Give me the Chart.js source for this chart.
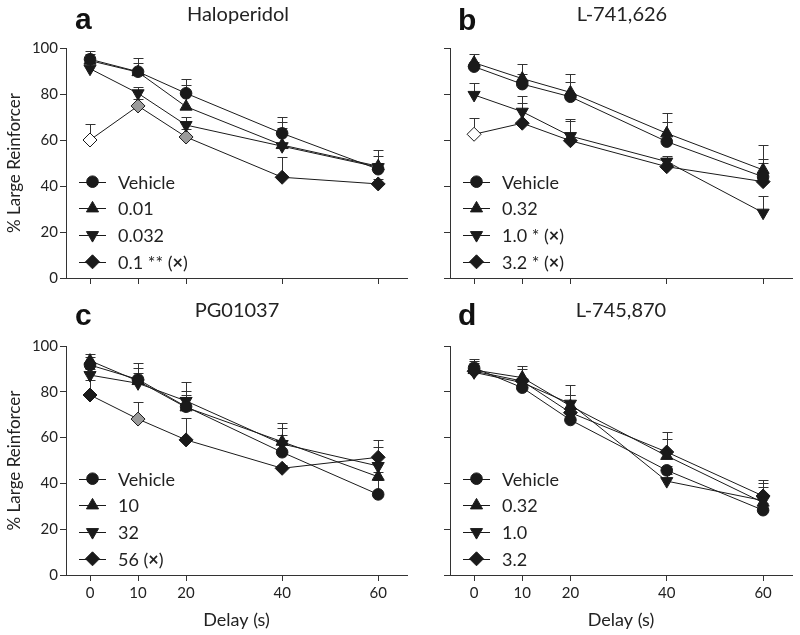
<!DOCTYPE html>
<html><head><meta charset="utf-8">
<script src="https://cdn.jsdelivr.net/npm/chart.js@4.4.1/dist/chart.umd.min.js"></script>
<style>
html,body{margin:0;padding:0;background:#fff;}
#wrap{position:relative;width:800px;height:635px;overflow:hidden;background:#fff;}
canvas{position:absolute;}
</style></head><body><div id="wrap">
<canvas id="pa" width="415" height="300" style="left:0;top:0;width:415px;height:300px"></canvas>
<canvas id="pb" width="400" height="300" style="left:400px;top:0;width:400px;height:300px"></canvas>
<canvas id="pc" width="415" height="335" style="left:0;top:300px;width:415px;height:335px"></canvas>
<canvas id="pd" width="400" height="335" style="left:400px;top:300px;width:400px;height:335px"></canvas>
</div>
<script>
// ---- data ----
const delays = [0, 10, 20, 40, 60];
const xTickValues = [0, 10, 20, 40, 60];
const yTickValues = [0, 20, 40, 60, 80, 100];

// (a) Haloperidol
const haloLabels = ['Vehicle', '0.01', '0.032', '0.1 ** (×)'];
const haloVehicle = [95.1, 89.7, 80.3, 62.9, 47.3];
const haloVehicleSem = [3.5, 5.8, 6.4, 7.0, 8.4];
const halo001 = [94.5, 89.5, 74.5, 57.8, 48.6];
const halo001Sem = [2.8, 3.8, 9.4, 10.2, 4.4];
const halo0032 = [91.0, 80.3, 66.5, 57.3, 48.2];
const halo0032Sem = [3.0, 2.9, 3.6, 7.8, 1.7];
const halo01 = [60.0, 74.8, 61.3, 43.8, 40.9];
const halo01Sem = [7.0, 3.0, 3.5, 8.7, 2.0];

// (b) L-741,626
const l741Labels = ['Vehicle', '0.32', '1.0 * (×)', '3.2 * (×)'];
const l741Vehicle = [91.9, 84.3, 78.8, 59.3, 44.0];
const l741VehicleSem = [2.1, 4.4, 6.3, 8.7, 7.6];
const l741_032 = [93.6, 86.7, 80.7, 62.9, 47.0];
const l741_032Sem = [3.6, 6.2, 7.9, 8.7, 10.8];
const l741_10 = [79.6, 72.3, 61.7, 50.6, 28.4];
const l741_10Sem = [5.4, 7.0, 7.4, 2.4, 7.4];
const l741_32 = [62.5, 67.3, 59.7, 48.4, 41.9];
const l741_32Sem = [6.9, 8.6, 8.7, 1.6, 8.2];

// (c) PG01037
const pgLabels = ['Vehicle', '10', '32', '56 (×)'];
const pgVehicle = [91.7, 85.4, 73.5, 53.6, 35.2];
const pgVehicleSem = [3.4, 4.8, 7.0, 7.5, 6.3];
const pg10 = [93.6, 84.7, 73.2, 58.2, 42.9];
const pg10Sem = [2.9, 7.7, 10.9, 8.3, 2.0];
const pg32 = [87.3, 83.7, 76.0, 57.2, 47.6];
const pg32Sem = [2.5, 4.4, 2.6, 6.9, 8.2];
const pg56 = [78.6, 68.1, 59.0, 46.6, 51.4];
const pg56Sem = [6.6, 7.3, 9.7, 1.5, 7.6];

// (d) L-745,870
const l745Labels = ['Vehicle', '0.32', '1.0', '3.2'];
const l745Vehicle = [90.5, 81.8, 67.7, 45.7, 28.3];
const l745VehicleSem = [2.9, 3.2, 3.3, 1.9, 3.0];
const l745_032 = [89.5, 86.2, 73.8, 52.0, 31.6];
const l745_032Sem = [4.7, 5.1, 9.0, 10.6, 8.7];
const l745_10 = [88.5, 84.0, 74.8, 41.0, 32.5];
const l745_10Sem = [2.0, 2.0, 3.7, 3.0, 5.9];
const l745_32 = [89.0, 84.7, 70.9, 53.7, 34.5];
const l745_32Sem = [3.7, 5.1, 7.6, 5.5, 7.0];

// ---- styles ----
const FONT = 'Lato, "Open Sans", sans-serif';
const INK = '#1a1a1a';
const MARKERS = [
  {style: 'circle', rotation: 0, radius: 5.8},
  {style: 'triangle', rotation: 0, radius: 7},
  {style: 'triangle', rotation: 180, radius: 7},
  {style: 'rectRot', rotation: 0, radius: 7}
];
const GREY = '#9a9a9a';

function drawMarker(ctx, m, x, y, fill) {
  ctx.save();
  ctx.fillStyle = fill; ctx.strokeStyle = INK; ctx.lineWidth = 1;
  ctx.beginPath();
  const r = m.radius;
  if (m.style === 'circle') {
    ctx.arc(x, y, r, 0, Math.PI * 2);
  } else if (m.style === 'triangle') {
    const rad = m.rotation * Math.PI / 180;
    for (let k = 0; k < 3; k++) {
      const a = rad + k * 2 * Math.PI / 3;
      const px = x + Math.sin(a) * r, py = y - Math.cos(a) * r;
      if (k === 0) ctx.moveTo(px, py); else ctx.lineTo(px, py);
    }
    ctx.closePath();
  } else {
    ctx.moveTo(x, y - r); ctx.lineTo(x + r, y); ctx.lineTo(x, y + r); ctx.lineTo(x - r, y);
    ctx.closePath();
  }
  ctx.fill(); ctx.stroke();
  ctx.restore();
}

const errorBarPlugin = {
  id: 'errorBars',
  beforeDatasetsDraw(chart) {
    const ctx = chart.ctx, ys = chart.scales.y;
    ctx.save();
    ctx.strokeStyle = '#333'; ctx.lineWidth = 1;
    chart.data.datasets.forEach((ds, i) => {
      const meta = chart.getDatasetMeta(i);
      meta.data.forEach((pt, j) => {
        const top = ys.getPixelForValue(ds.data[j].y + ds.sem[j]);
        const x = Math.round(pt.x) + 0.5, t = Math.round(top) + 0.5;
        ctx.beginPath();
        ctx.moveTo(x, pt.y); ctx.lineTo(x, t);
        ctx.moveTo(x - 5, t); ctx.lineTo(x + 5, t);
        ctx.stroke();
      });
    });
    ctx.restore();
  }
};

const legendPlugin = {
  id: 'insideLegend',
  afterDraw(chart) {
    const ctx = chart.ctx, ca = chart.chartArea;
    chart.data.datasets.forEach((ds, i) => {
      const y = ca.bottom - 96.3 + i * 26.7;
      const L = ca.left;
      ctx.save();
      ctx.strokeStyle = INK; ctx.lineWidth = 1;
      ctx.beginPath(); ctx.moveTo(L + 13, Math.round(y) + 0.5); ctx.lineTo(L + 40, Math.round(y) + 0.5); ctx.stroke();
      drawMarker(ctx, MARKERS[i], L + 26.5, y, INK);
      ctx.fillStyle = '#222'; ctx.textBaseline = 'middle';
      let tx = L + 52;
      const parts = ds.label.split('×');
      parts.forEach((p, k) => {
        ctx.font = '18px ' + FONT;
        ctx.fillText(p, tx, y + 1);
        tx += ctx.measureText(p).width;
        if (k < parts.length - 1) {
          ctx.font = 'bold 18px ' + FONT;
          ctx.fillText('×', tx, y + 1);
          tx += ctx.measureText('×').width;
        }
      });
      ctx.restore();
    });
  }
};

const headPlugin = {
  id: 'heads',
  afterDraw(chart) {
    const o = chart.options.plugins.heads;
    const ctx = chart.ctx;
    ctx.save();
    ctx.fillStyle = '#111'; ctx.textBaseline = 'alphabetic';
    ctx.font = 'bold 30px "Liberation Sans", Arial, sans-serif';
    ctx.textAlign = 'left';
    ctx.fillText(o.letter, o.lx, o.ly);
    ctx.font = '20px ' + FONT; ctx.fillStyle = '#222';
    ctx.textAlign = 'center';
    ctx.fillText(o.title, o.tx, o.ty);
    ctx.restore();
  }
};

function makePanel(id, p) {
  const datasets = p.series.map((vals, i) => ({
    label: p.labels[i],
    data: delays.map((d, j) => ({x: d, y: vals[j]})),
    sem: p.sems[i],
    borderColor: INK,
    borderWidth: 1,
    tension: 0,
    pointStyle: MARKERS[i].style,
    pointRotation: MARKERS[i].rotation,
    pointRadius: MARKERS[i].radius,
    pointBorderColor: INK,
    pointBorderWidth: 1,
    pointBackgroundColor: (p.fills && p.fills[i]) ? p.fills[i] : INK,
    clip: false
  }));
  new Chart(document.getElementById(id), {
    type: 'line',
    data: {datasets},
    options: {
      responsive: false, animation: false, devicePixelRatio: 1,
      layout: {padding: {top: p.padTop, right: 0, bottom: 0, left: 0}},
      plugins: {
        legend: {display: false}, tooltip: {enabled: false}, title: {display: false},
        heads: p.heads
      },
      scales: {
        x: {
          type: 'linear', min: -5, max: 66,
          afterBuildTicks: s => { s.ticks = xTickValues.map(v => ({value: v})); },
          afterFit: s => { s.height = p.xH; },
          grid: {display: true, drawOnChartArea: false, drawTicks: true, tickLength: 6, color: '#333', lineWidth: 1},
          border: {display: true, color: '#333', width: 1},
          ticks: {display: p.showX, font: {family: FONT, size: 15}, color: '#222', padding: 3, maxRotation: 0, autoSkip: false},
          title: {display: p.showX, text: 'Delay (s)', font: {family: FONT, size: 18}, color: '#222', padding: {top: 4, bottom: 4}}
        },
        y: {
          min: 0, max: 100,
          afterBuildTicks: s => { s.ticks = yTickValues.map(v => ({value: v})); },
          afterFit: s => { s.width = p.yW; },
          grid: {display: true, drawOnChartArea: false, drawTicks: true, tickLength: 6, color: '#333', lineWidth: 1},
          border: {display: true, color: '#333', width: 1},
          ticks: {display: p.showY, font: {family: FONT, size: 15}, color: '#222', padding: 2},
          title: {display: p.showY, text: '% Large Reinforcer', font: {family: FONT, size: 17}, color: '#222', padding: {top: 4, bottom: 4}}
        }
      }
    },
    plugins: [errorBarPlugin, legendPlugin, headPlugin]
  });
}

makePanel('pa', {
  labels: haloLabels,
  series: [haloVehicle, halo001, halo0032, halo01],
  sems: [haloVehicleSem, halo001Sem, halo0032Sem, halo01Sem],
  fills: [null, null, null, ['#fff', GREY, GREY, INK, INK]],
  padTop: 48, xH: 22, yW: 66, showX: false, showY: true,
  heads: {letter: 'a', lx: 75, ly: 29, title: 'Haloperidol', tx: 238, ty: 21}
});
makePanel('pb', {
  labels: l741Labels,
  series: [l741Vehicle, l741_032, l741_10, l741_32],
  sems: [l741VehicleSem, l741_032Sem, l741_10Sem, l741_32Sem],
  fills: [null, null, null, ['#fff', INK, INK, INK, INK]],
  padTop: 48, xH: 22, yW: 50, showX: false, showY: false,
  heads: {letter: 'b', lx: 58, ly: 30, title: 'L-741,626', tx: 222, ty: 21}
});
makePanel('pc', {
  labels: pgLabels,
  series: [pgVehicle, pg10, pg32, pg56],
  sems: [pgVehicleSem, pg10Sem, pg32Sem, pg56Sem],
  fills: [null, null, null, [INK, GREY, INK, INK, INK]],
  padTop: 46, xH: 60, yW: 66, showX: true, showY: true,
  heads: {letter: 'c', lx: 75, ly: 25, title: 'PG01037', tx: 237, ty: 17}
});
makePanel('pd', {
  labels: l745Labels,
  series: [l745Vehicle, l745_032, l745_10, l745_32],
  sems: [l745VehicleSem, l745_032Sem, l745_10Sem, l745_32Sem],
  fills: null,
  padTop: 46, xH: 60, yW: 50, showX: true, showY: false,
  heads: {letter: 'd', lx: 58, ly: 25, title: 'L-745,870', tx: 221, ty: 17}
});
</script>
</body></html>
